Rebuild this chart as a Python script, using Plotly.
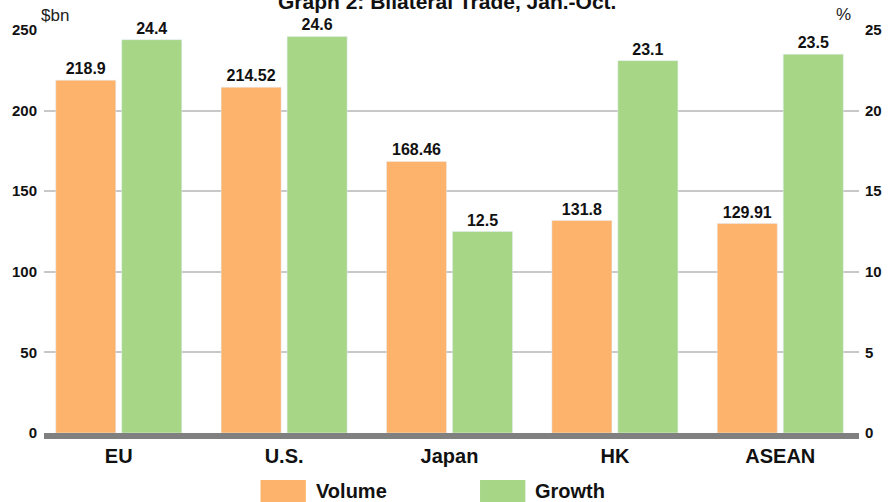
import plotly.graph_objects as go

categories = ["EU", "U.S.", "Japan", "HK", "ASEAN"]
volume = [218.9, 214.52, 168.46, 131.8, 129.91]
growth = [24.4, 24.6, 12.5, 23.1, 23.5]
volume_labels = ["218.9", "214.52", "168.46", "131.8", "129.91"]
growth_labels = ["24.4", "24.6", "12.5", "23.1", "23.5"]
left_ticks = [0, 50, 100, 150, 200, 250]
right_ticks = [0, 5, 10, 15, 20, 25]

ORANGE = "#FDB36B"
GREEN = "#A6D686"
FONT = "Liberation Sans, Arial, sans-serif"

fig = go.Figure()
fig.add_trace(go.Bar(
    x=categories, y=volume, name="Volume", marker_color=ORANGE,
    width=0.363, offset=-0.381, yaxis="y",
    text=volume_labels, textposition="outside", cliponaxis=False,
    textfont=dict(family=FONT, size=16, color="#111", weight="bold"),
    showlegend=False,
))
fig.add_trace(go.Bar(
    x=categories, y=growth, name="Growth", marker_color=GREEN,
    width=0.363, offset=0.018, yaxis="y2",
    text=growth_labels, textposition="outside", cliponaxis=False,
    textfont=dict(family=FONT, size=16, color="#111", weight="bold"),
    showlegend=False,
))

fig.update_layout(
    width=894, height=502,
    margin=dict(l=42, r=24, t=30, b=69),
    paper_bgcolor="white", plot_bgcolor="white",
    barmode="overlay",
    font=dict(family=FONT, color="#111"),
    xaxis=dict(
        type="category", range=[-0.452, 4.476],
        showline=True, linecolor="#808080", linewidth=6,
        showgrid=False, ticks="",
        tickfont=dict(family=FONT, size=20, color="#111", weight="bold"),
    ),
    yaxis=dict(
        range=[0, 250], tickvals=left_ticks,
        showgrid=True, gridcolor="#c8c8c8", gridwidth=1.5,
        zeroline=False, ticks="", ticklabelstandoff=6,
        tickfont=dict(family=FONT, size=15, color="#111", weight="bold"),
    ),
    yaxis2=dict(
        range=[0, 25], tickvals=right_ticks, overlaying="y", side="right",
        showgrid=False, zeroline=False, ticks="", ticklabelstandoff=5,
        tickfont=dict(family=FONT, size=15, color="#111", weight="bold"),
    ),
)

PH = 403.0
annotations = [
    dict(text="Graph 2: Bilateral Trade, Jan.-Oct.", x=(451 - 42) / 828, xref="paper",
         y=1 + 29 / PH, yref="paper", yanchor="middle", showarrow=False,
         font=dict(family=FONT, size=21, color="#111", weight="bold")),
    dict(text="$bn", x=0.0, xref="paper", xanchor="left", xshift=-5,
         y=1.0, yref="paper", yanchor="bottom", yshift=3, showarrow=False,
         font=dict(family=FONT, size=17, color="#222")),
    dict(text="%", x=1.0, xref="paper", xanchor="right", xshift=-6,
         y=1.0, yref="paper", yanchor="bottom", yshift=4, showarrow=False,
         font=dict(family=FONT, size=17, color="#222")),
]

shapes = []
legend_items = [("Volume", ORANGE, 262), ("Growth", GREEN, 485)]
for label, color, px in legend_items:
    x0 = (px - 42) / 828
    x1 = (px + 46 - 42) / 828
    shapes.append(dict(type="rect", xref="paper", yref="paper",
                       x0=x0, x1=x1, y0=(433 - 502) / PH, y1=(433 - 480) / PH,
                       fillcolor=color, line=dict(width=0)))
    annotations.append(dict(text=label, x=(px + 54 - 42) / 828, xref="paper",
                            xanchor="left", y=(433 - 491) / PH, yref="paper",
                            yanchor="middle", showarrow=False,
                            font=dict(family=FONT, size=20, color="#111", weight="bold")))

fig.update_layout(annotations=annotations, shapes=shapes)
fig.write_html("out.html")
